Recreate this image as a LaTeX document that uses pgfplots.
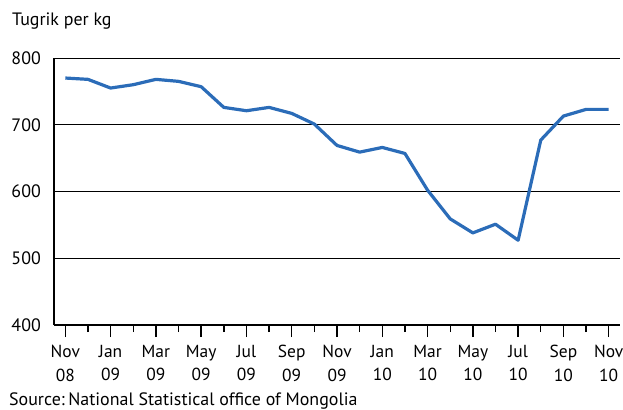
\documentclass[border=0pt]{standalone}
\usepackage{fontspec}
\setmainfont{PT Sans}
\usepackage{pgfplots}
\pgfplotsset{compat=1.18}
\definecolor{lineblue}{RGB}{43,108,184}
\begin{document}
\fontsize{18}{22}\selectfont
\begin{tikzpicture}[x=1bp,y=1bp]
\useasboundingbox (0,0) rectangle (623,409);
\begin{axis}[
  at={(54bp,84bp)}, anchor=south west,
  scale only axis, width=566bp, height=267bp,
  xmin=-0.5, xmax=24.5, ymin=400, ymax=800,
  axis x line=bottom, axis y line=left,
  axis line style={-, line width=1.6bp, black},
  ytick={400,500,600,700,800},
  ymajorgrids, grid style={black, line width=0.8bp},
  ytick style={draw=none},
  xtick={0,2,...,24},
  minor xtick={1,3,...,23},
  xticklabels={Nov\\08,Jan\\09,Mar\\09,May\\09,Jul\\09,Sep\\09,Nov\\09,Jan\\10,Mar\\10,May\\10,Jul\\10,Sep\\10,Nov\\10},
  xticklabel style={align=center, font=\fontsize{17.5}{23.5}\selectfont, inner sep=1bp, yshift=-7bp},
  yticklabel style={font=\fontsize{18}{22}\selectfont, inner sep=1bp},
  tick align=outside,
  major tick length=12bp, minor tick length=7bp,
  xtick style={black, line width=1.4bp},
  /pgf/number format/assume math mode=true,
  clip=false,
]
\addplot[lineblue, line width=3.2bp, line join=round] coordinates {
(0,770) (1,768) (2,755) (3,760) (4,768) (5,765) (6,757) (7,726) (8,721) (9,726)
(10,717) (11,701) (12,669) (13,659) (14,666) (15,657) (16,602) (17,559) (18,538)
(19,551) (20,527) (21,677) (22,713) (23,723) (24,723)
};
\end{axis}
\node[anchor=base west, inner sep=0] at (12bp,383bp) {Tugrik per kg};
\node[anchor=base west, inner sep=0] at (9bp,4bp) {Source:\hspace{0.2em}National Statistical office of Mongolia};
\end{tikzpicture}
\end{document}
